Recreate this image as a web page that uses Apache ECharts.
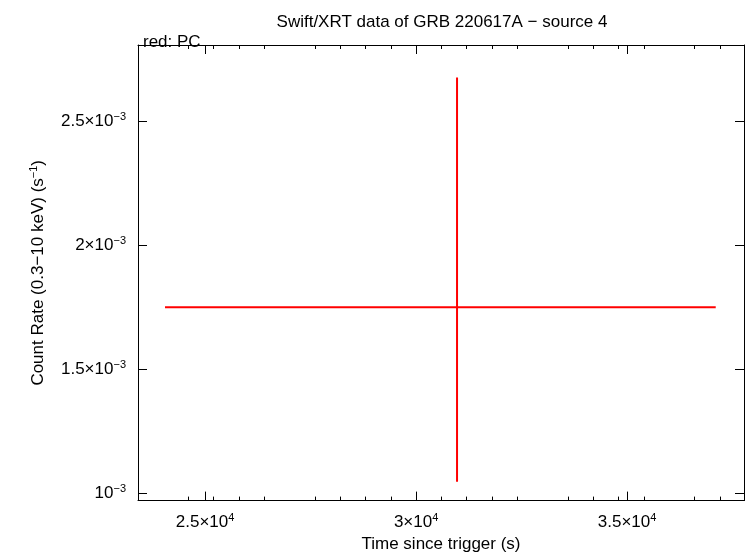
<!DOCTYPE html>
<html><head><meta charset="utf-8">
<script src="https://cdn.jsdelivr.net/npm/echarts@6/dist/echarts.min.js"></script>
<style>html,body{margin:0;padding:0;background:#fff}#c{width:746px;height:558px}</style>
</head><body><div id="c"></div>
<script>
// one PC point: time, time errors, rate, rate errors
var times = [30970];
var timeLo = [24050];
var timeHi = [37100];
var rates = [1.75e-3];
var rateLo = [1.048e-3];
var rateHi = [2.675e-3];
var xTicks = [25000, 30000, 35000];
var yTicks = [1e-3, 1.5e-3, 2e-3, 2.5e-3];

var data = times.map(function (t, i) { return [t, rates[i], timeLo[i], timeHi[i], rateLo[i], rateHi[i]]; });

function xLab(v) {
  if (xTicks.indexOf(v) < 0) return '';
  return (v / 1e4) + '×10{s|4}';
}
function yLab(v) {
  var m = Math.round(v * 1e4) / 10;
  if (m === 1) return '10{s|−3}';
  return m + '×10{s|−3}';
}
var font = 'Liberation Sans';
var rich = {s: {fontSize: 11, verticalAlign: 'top', padding: [0, 0, 9, 0], fontFamily: font, color: '#000'}};
var tick = function (vals) { return {inside: true, length: 9, lineStyle: {color: '#000'}, customValues: vals}; };
var axisCommon = {
  axisLine: {lineStyle: {color: '#000', width: 1}},
  minorTick: {show: true, splitNumber: 5, length: 4, lineStyle: {color: '#000'}},
  splitLine: {show: false}
};
var chart = echarts.init(document.getElementById('c'));
chart.setOption({
  animation: false,
  title: [
    {text: 'Swift/XRT data of GRB 220617A − source 4', left: 437, top: 9, textAlign: 'center',
     textStyle: {fontFamily: font, fontWeight: 'normal', fontSize: 17, color: '#000'}},
    {text: 'red: PC', left: 138, top: 29, textStyle: {fontFamily: font, fontWeight: 'normal', fontSize: 17, color: '#000'}}
  ],
  grid: {left: 138, right: 2, top: 45, bottom: 51},
  xAxis: [
    Object.assign({type: 'value', min: 23410, max: 37770, position: 'bottom',
      name: 'Time since trigger (s)', nameLocation: 'middle', nameGap: 33,
      nameTextStyle: {fontFamily: font, fontSize: 17, color: '#000'},
      axisLabel: {formatter: xLab, rich: rich, fontFamily: font, fontSize: 17, color: '#000', margin: 12,
        customValues: xTicks}}, axisCommon, {axisTick: tick(xTicks)}),
    Object.assign({type: 'value', min: 23410, max: 37770, position: 'top', axisLabel: {show: false}}, axisCommon,
      {axisTick: tick(xTicks)})
  ],
  yAxis: [
    Object.assign({type: 'value', min: 0.972e-3, max: 2.806e-3, position: 'left',
      name: 'Count Rate (0.3−10 keV) (s{s|−1})', nameLocation: 'middle', nameGap: 90,
      nameTextStyle: {fontFamily: font, fontSize: 17, color: '#000', rich: rich},
      axisLabel: {formatter: yLab, rich: rich, fontFamily: font, fontSize: 17, color: '#000', margin: 12,
        customValues: yTicks}}, axisCommon, {axisTick: tick(yTicks), minorTick: {show: false}}),
    Object.assign({type: 'value', min: 0.972e-3, max: 2.806e-3, position: 'right', axisLabel: {show: false}}, axisCommon,
      {axisTick: tick(yTicks), minorTick: {show: false}})
  ],
  series: [{
    type: 'custom',
    data: data,
    renderItem: function (params, api) {
      var c = api.coord([api.value(0), api.value(1)]);
      var l = api.coord([api.value(2), api.value(1)]);
      var r = api.coord([api.value(3), api.value(1)]);
      var b = api.coord([api.value(0), api.value(4)]);
      var t = api.coord([api.value(0), api.value(5)]);
      var st = {stroke: '#ff0000', lineWidth: 2};
      return {type: 'group', children: [
        {type: 'line', shape: {x1: l[0], y1: c[1], x2: r[0], y2: c[1]}, style: st},
        {type: 'line', shape: {x1: c[0], y1: b[1], x2: c[0], y2: t[1]}, style: st}
      ]};
    }
  }]
});
</script></body></html>
